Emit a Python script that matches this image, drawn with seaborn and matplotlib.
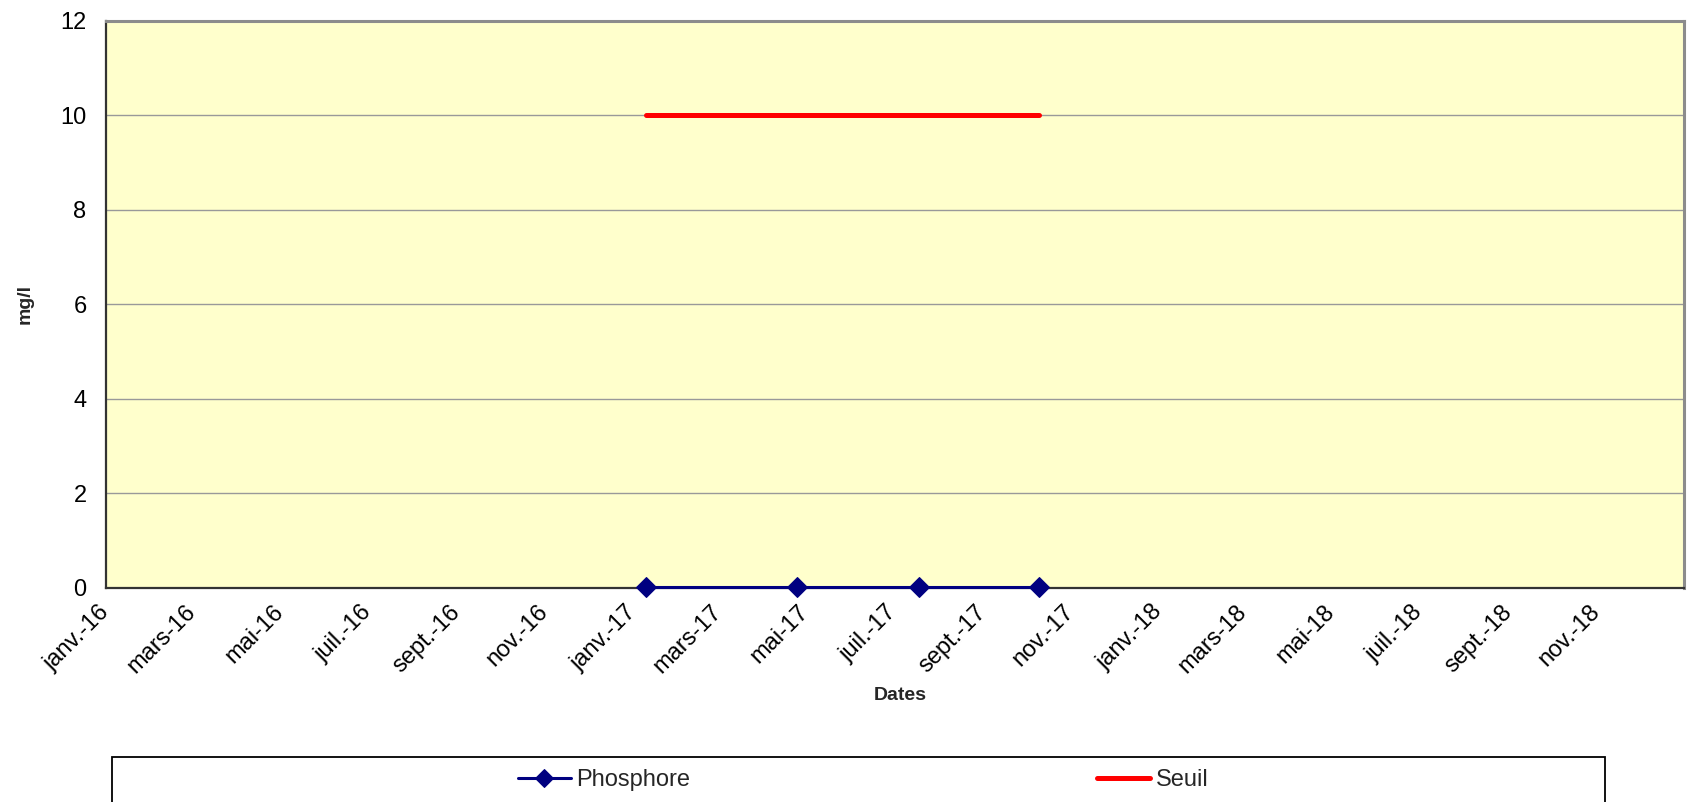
import matplotlib
matplotlib.use("Agg")
import matplotlib.pyplot as plt
from matplotlib.patches import Rectangle
import pandas as pd
import seaborn as sns

# Sampling dates and measured concentrations (mg/l)
sample_dates = ["2017-01-10", "2017-04-25", "2017-07-19", "2017-10-10"]
phosphore = [0.01, 0.01, 0.01, 0.01]
seuil = [10, 10, 10, 10]

# Axis ticks (every two months) and their French labels
tick_dates = pd.date_range("2016-01-01", "2019-01-01", freq="2MS")
tick_labels = [
    "janv.-16", "mars-16", "mai-16", "juil.-16", "sept.-16", "nov.-16",
    "janv.-17", "mars-17", "mai-17", "juil.-17", "sept.-17", "nov.-17",
    "janv.-18", "mars-18", "mai-18", "juil.-18", "sept.-18", "nov.-18", "",
]
y_ticks = [0, 2, 4, 6, 8, 10, 12]

df = pd.DataFrame({
    "date": pd.to_datetime(sample_dates),
    "Phosphore": phosphore,
    "Seuil": seuil,
})

sns.set_theme(style="white")
plt.rcParams["font.family"] = ["Liberation Sans", "DejaVu Sans"]

W, H = 1689, 802
fig = plt.figure(figsize=(W / 100, H / 100), dpi=100)
fig.patch.set_facecolor("white")
ax = fig.add_axes([106 / W, 1 - 587.7 / H, (1684 - 106) / W, (587.7 - 20.7) / H])
ax.set_facecolor("#FFFFCC")

sns.lineplot(data=df, x="date", y="Phosphore", ax=ax, color="#000080",
             linewidth=2.2, marker="D", markersize=10.5, markeredgecolor="#000080",
             label="Phosphore", zorder=4, clip_on=False)
sns.lineplot(data=df, x="date", y="Seuil", ax=ax, color="#FF0000",
             linewidth=3.6, solid_capstyle="round", label="Seuil", zorder=3)

ax.set_xlim(pd.Timestamp("2016-01-01"), pd.Timestamp("2019-01-01"))
ax.set_ylim(0, 12)
ax.set_yticks(y_ticks)
ax.set_yticklabels([str(v) for v in y_ticks], fontsize=17)
ax.set_xticks(tick_dates)
ax.set_xticklabels(tick_labels, fontsize=17, rotation=45, ha="right",
                   va="center", rotation_mode="anchor")
ax.xaxis.set_minor_locator(matplotlib.ticker.NullLocator())

ax.grid(axis="y", color="#999999", linewidth=1.0)
ax.grid(axis="x", visible=False)
ax.set_axisbelow(True)

ax.tick_params(axis="both", direction="out", length=6, width=1.2,
               color="#222222", labelcolor="black")
ax.tick_params(axis="x", pad=9)
ax.tick_params(axis="y", pad=8)

for side in ("left", "bottom"):
    ax.spines[side].set_color("#333333")
    ax.spines[side].set_linewidth(1.6)
for side in ("top", "right"):
    ax.spines[side].set_color("#8C8C8C")
    ax.spines[side].set_linewidth(2.2)

ax.set_xlabel("Dates", fontsize=14, fontweight="bold", va="center")
ax.xaxis.set_label_coords((900 - 106) / 1578, -(695 - 587.7) / 567)
ax.set_ylabel("mg/l", fontsize=14, fontweight="bold", va="center")
ax.yaxis.set_label_coords((25 - 106) / 1578, 0.5)

ax.get_legend().remove()
handles, labels = ax.get_legend_handles_labels()
fig.legend(handles, labels, loc="center", bbox_to_anchor=(863 / W, 1 - 780 / H),
           ncol=2, frameon=False, fontsize=17, handlelength=2.25,
           handletextpad=0.25, columnspacing=17.2, markerscale=0.85)

# Legend frame running off the bottom edge
fig.patches.append(Rectangle((112 / W, -0.05), (1605 - 112) / W, 0.05 + 1 - 756.5 / H,
                             transform=fig.transFigure, fill=False,
                             edgecolor="black", linewidth=1.3))

fig.savefig("out.png", dpi=100, facecolor="white")
